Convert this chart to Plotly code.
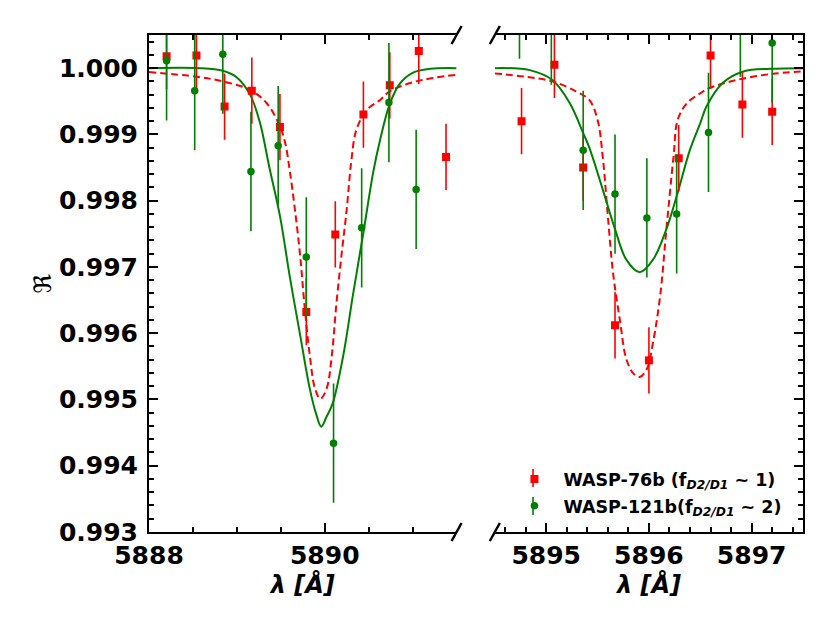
import plotly.graph_objects as go

# Observed relative flux, D2 line window (left panel)
w76_d2_wave = [5888.20, 5888.54, 5888.86, 5889.17, 5889.49, 5889.79, 5890.12, 5890.44, 5890.74, 5891.07, 5891.38]
w76_d2_flux = [1.00018, 1.00019, 0.99942, 0.99966, 0.99911, 0.99632, 0.99749, 0.99930, 0.99974, 1.00026, 0.99866]
w76_d2_err = [0.0005] * 11

w121_d2_wave = [5888.20, 5888.52, 5888.84, 5889.16, 5889.47, 5889.79, 5890.10, 5890.42, 5890.73, 5891.04]
w121_d2_flux = [1.00011, 0.99966, 1.00021, 0.99844, 0.99883, 0.99715, 0.99434, 0.99759, 0.99948, 0.99817]
w121_d2_err = [0.0009] * 10

# Observed relative flux, D1 line window (right panel)
w76_d1_wave = [5894.76, 5895.08, 5895.36, 5895.67, 5896.00, 5896.29, 5896.60, 5896.91, 5897.20]
w76_d1_flux = [0.99920, 1.00005, 0.99850, 0.99612, 0.99559, 0.99864, 1.00019, 0.99945, 0.99934]
w76_d1_err = [0.0005] * 9

w121_d1_wave = [5894.74, 5895.05, 5895.36, 5895.67, 5895.98, 5896.27, 5896.58, 5896.89, 5897.20]
w121_d1_flux = [1.00104, 1.00065, 0.99876, 0.99810, 0.99774, 0.99780, 0.99903, 1.00077, 1.00038]
w121_d1_err = [0.0009] * 9

# Model curves
fit76_d2_wave = [5888.00, 5888.54, 5888.84, 5889.15, 5889.34, 5889.49, 5889.55, 5889.60, 5889.66,
                 5889.72, 5889.77, 5889.83, 5889.89, 5889.95, 5890.02, 5890.08, 5890.13, 5890.19,
                 5890.25, 5890.30, 5890.36, 5890.48, 5890.63, 5890.74, 5891.04, 5891.50]
fit76_d2_flux = [0.99994, 0.99987, 0.99980, 0.99967, 0.99947, 0.99912, 0.99887, 0.99847, 0.99787,
                 0.99717, 0.99641, 0.99566, 0.99516, 0.99501, 0.99516, 0.99566, 0.99641, 0.99717,
                 0.99787, 0.99857, 0.99907, 0.99937, 0.99952, 0.99965, 0.99980, 0.99990]

fit121_d2_wave = [5888.00, 5888.58, 5888.84, 5889.00, 5889.15, 5889.26, 5889.37, 5889.49, 5889.60,
                  5889.72, 5889.83, 5889.90, 5889.96, 5890.02, 5890.09, 5890.21, 5890.32, 5890.44,
                  5890.55, 5890.63, 5890.74, 5890.85, 5891.00, 5891.20, 5891.50]
fit121_d2_flux = [1.00000, 1.00000, 0.99996, 0.99986, 0.99960, 0.99919, 0.99850, 0.99777, 0.99687,
                  0.99597, 0.99516, 0.99479, 0.99459, 0.99474, 0.99494, 0.99566, 0.99657, 0.99752,
                  0.99842, 0.99892, 0.99946, 0.99976, 0.99993, 0.99999, 1.00000]

fit76_d1_wave = [5894.50, 5894.80, 5895.06, 5895.29, 5895.42, 5895.50, 5895.55, 5895.60, 5895.65,
                 5895.72, 5895.78, 5895.85, 5895.91, 5895.98, 5896.04, 5896.11, 5896.17, 5896.24,
                 5896.28, 5896.37, 5896.50, 5896.59, 5896.85, 5897.18, 5897.50]
fit76_d1_flux = [0.99992, 0.99987, 0.99980, 0.99965, 0.99952, 0.99922, 0.99867, 0.99777, 0.99692,
                 0.99617, 0.99561, 0.99539, 0.99534, 0.99546, 0.99586, 0.99657, 0.99757, 0.99867,
                 0.99922, 0.99947, 0.99962, 0.99970, 0.99982, 0.99991, 0.99995]

fit121_d1_wave = [5894.50, 5894.84, 5895.06, 5895.23, 5895.36, 5895.42, 5895.55, 5895.67, 5895.78,
                  5895.91, 5896.04, 5896.17, 5896.28, 5896.40, 5896.50, 5896.56, 5896.72, 5896.92,
                  5897.18, 5897.50]
fit121_d1_flux = [1.00000, 0.99997, 0.99982, 0.99947, 0.99902, 0.99880, 0.99817, 0.99757, 0.99711,
                  0.99692, 0.99711, 0.99757, 0.99812, 0.99877, 0.99917, 0.99942, 0.99978, 0.99995,
                  0.99999, 1.00000]

label76 = "WASP-76b (f<sub><i>D2/D1</i></sub> ~ 1)"
label121 = "WASP-121b(f<sub><i>D2/D1</i></sub> ~ 2)"

RED = "#ff0000"
GREEN = "#008000"
FONT = "DejaVu Sans"

left_dom = [0.0, 0.4703]
right_dom = [0.5288, 1.0]

fig = go.Figure()

# Two panels: (axis suffix, data) for the broken wavelength axis
panels = [
    ("", fit76_d2_wave, fit76_d2_flux, fit121_d2_wave, fit121_d2_flux,
     w76_d2_wave, w76_d2_flux, w76_d2_err, w121_d2_wave, w121_d2_flux, w121_d2_err),
    ("2", fit76_d1_wave, fit76_d1_flux, fit121_d1_wave, fit121_d1_flux,
     w76_d1_wave, w76_d1_flux, w76_d1_err, w121_d1_wave, w121_d1_flux, w121_d1_err),
]

for sfx, f76x, f76y, f121x, f121y, p76x, p76y, e76, p121x, p121y, e121 in panels:
    xa = "x" + sfx
    ya = "y" + sfx
    first = sfx == ""

    fig.add_trace(go.Scatter(
        x = f76x, y = f76y, xaxis = xa, yaxis = ya, mode = "lines",
        line = dict(color = RED, width = 2, dash = "7px,4px", shape = "spline", smoothing = 1),
        showlegend = False, hoverinfo = "skip"))
    fig.add_trace(go.Scatter(
        x = f121x, y = f121y, xaxis = xa, yaxis = ya, mode = "lines",
        line = dict(color = GREEN, width = 2, shape = "spline", smoothing = 1),
        showlegend = False, hoverinfo = "skip"))

    fig.add_trace(go.Scatter(
        x = p76x, y = p76y, xaxis = xa, yaxis = ya, mode = "markers",
        marker = dict(symbol = "square", size = 8, color = RED),
        error_y = dict(type = "data", array = e76, color = RED, thickness = 1.6, width = 0),
        name = label76, legendgroup = "w76", showlegend = first))
    fig.add_trace(go.Scatter(
        x = p121x, y = p121y, xaxis = xa, yaxis = ya, mode = "markers",
        marker = dict(symbol = "circle", size = 7.5, color = GREEN),
        error_y = dict(type = "data", array = e121, color = GREEN, thickness = 1.6, width = 0),
        name = label121, legendgroup = "w121", showlegend = first))

tickfont = dict(family = FONT, size = 25, color = "black", weight = "bold")
titlefont = dict(family = FONT, size = 24, color = "black", weight = "bold", style = "italic")

xcommon = dict(
    showline = True, linecolor = "black", linewidth = 2, mirror = "ticks",
    ticks = "inside", ticklen = 9, tickwidth = 1.5, tickcolor = "black",
    showgrid = False, zeroline = False, tickfont = tickfont,
    title = dict(text = "λ [Å]", font = titlefont, standoff = 6))

ycommon = dict(
    range = [0.993, 1.0005], tick0 = 0.993, dtick = 0.001, tickformat = ".3f",
    showline = True, linecolor = "black", linewidth = 2,
    ticks = "inside", ticklen = 9, tickwidth = 1.5, tickcolor = "black",
    minor = dict(dtick = 0.0002, ticks = "inside", ticklen = 5, tickwidth = 1.5, tickcolor = "black"),
    showgrid = False, zeroline = False, tickfont = tickfont)

# page body adds an 8px offset, so the figure is drawn 8px smaller
fig.update_layout(
    width = 822, height = 623,
    margin = dict(l = 141, r = 27, t = 27, b = 99),
    paper_bgcolor = "white", plot_bgcolor = "white",
    font = dict(family = FONT, color = "black"),
    xaxis = dict(xcommon, domain = left_dom, anchor = "y", range = [5888, 5891.5],
                 tick0 = 5888, dtick = 2,
                 minor = dict(dtick = 0.5, ticks = "inside", ticklen = 5, tickwidth = 1.5, tickcolor = "black")),
    xaxis2 = dict(xcommon, domain = right_dom, anchor = "y2", range = [5894.5, 5897.5],
                  tick0 = 5894, dtick = 1,
                  minor = dict(dtick = 0.2, ticks = "inside", ticklen = 5, tickwidth = 1.5, tickcolor = "black")),
    yaxis = dict(ycommon, anchor = "x", side = "left", ticklabelstandoff = 4),
    yaxis2 = dict(ycommon, anchor = "x2", side = "right", matches = "y", showticklabels = False),
    legend = dict(
        x = 0.545, y = 0.016, xanchor = "left", yanchor = "bottom",
        bgcolor = "rgba(0,0,0,0)", itemwidth = 48, tracegroupgap = 1,
        font = dict(family = FONT, size = 17.5, color = "black", weight = "bold")),
)

# y-axis label placed by hand, closer to the tick labels than a title allows
fig.add_annotation(text = "ℜ", xref = "paper", yref = "paper", x = -0.1636, y = 0.5,
                   xanchor = "center", yanchor = "middle",
                   textangle = -90, showarrow = False,
                   font = dict(family = FONT, size = 24, color = "black"))

# Diagonal break marks where the wavelength axis is cut
for xp in [left_dom[1], right_dom[0]]:
    for yp in [0, 1]:
        fig.add_shape(type = "line", xref = "paper", yref = "paper",
                      xsizemode = "pixel", ysizemode = "pixel", xanchor = xp, yanchor = yp,
                      x0 = -5, x1 = 5, y0 = -9, y1 = 9,
                      line = dict(color = "black", width = 2.5))

# Short error-bar strokes through the legend symbols
for yp, col in [(0.1087, RED), (0.0523, GREEN)]:
    fig.add_shape(type = "line", xref = "paper", yref = "paper",
                  xsizemode = "pixel", ysizemode = "pixel", xanchor = 0.5872, yanchor = yp,
                  x0 = 0, x1 = 0, y0 = -9, y1 = 9,
                  line = dict(color = col, width = 1.6))

fig.write_html("out.html")
